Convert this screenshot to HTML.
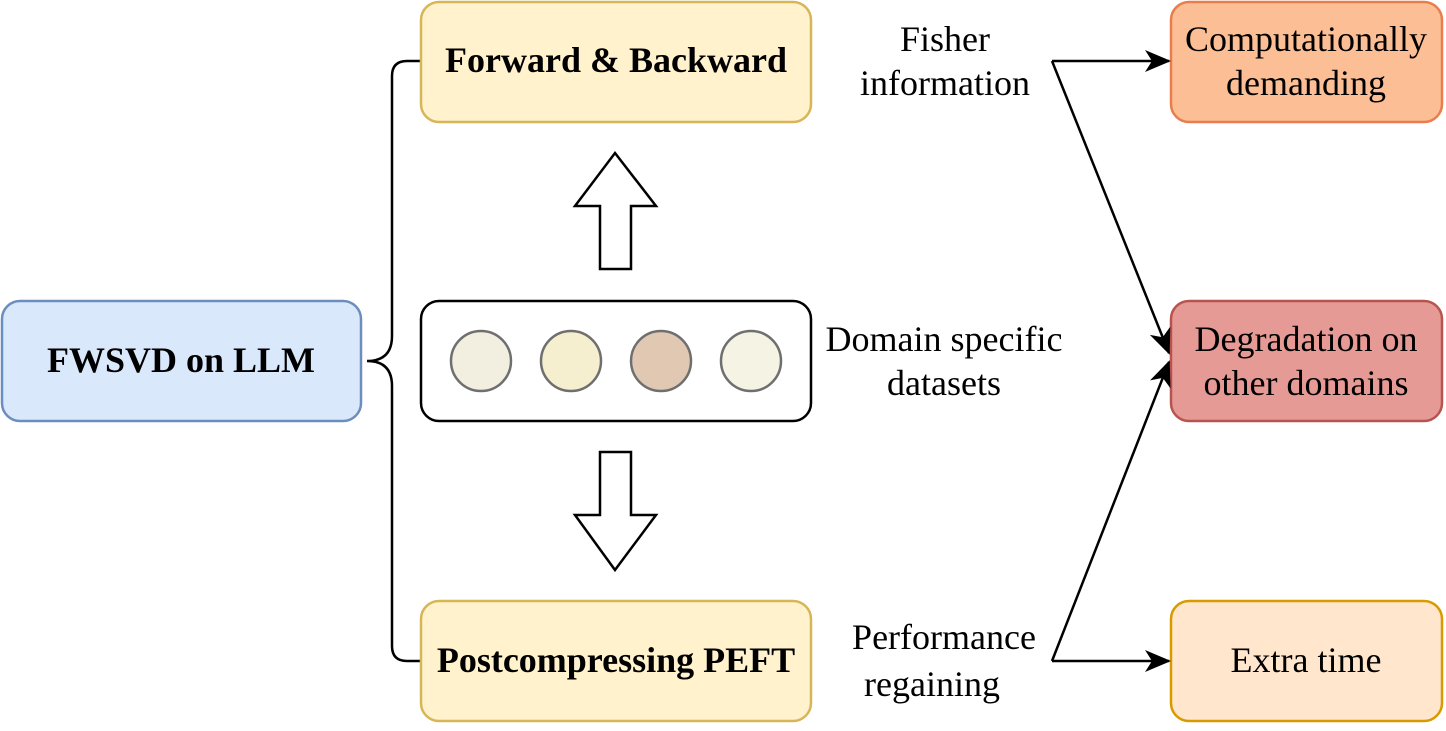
<!DOCTYPE html>
<html><head><style>body{margin:0;background:#fff} text{font-family:"Liberation Serif",serif;font-size:36px}</style></head><body>
<svg width="1446" height="726" viewBox="0 0 1446 726" xmlns="http://www.w3.org/2000/svg">
<defs>
<marker id="b" markerWidth="26" markerHeight="26" refX="24" refY="13" orient="auto" markerUnits="userSpaceOnUse" viewBox="0 0 26 26"><path d="M0,2 L26,13 L0,24 L7,13 Z" fill="#000"/></marker></defs>
<rect x="2" y="301" width="359" height="120" rx="18" fill="#dae8fc" stroke="#6c8ebf" stroke-width="2.5"/>
<text x="181" y="372" text-anchor="middle" font-weight="bold">FWSVD on LLM</text>
<path d="M367,361 Q392,361 392,336 L392,76 Q392,61 407,61 L421,61 M367,361 Q392,361 392,386 L392,646 Q392,661 407,661 L421,661" fill="none" stroke="#000" stroke-width="2.5"/>
<rect x="421" y="2" width="390" height="120" rx="18" fill="#fff2cc" stroke="#d6b656" stroke-width="2.5"/>
<text x="616" y="72" text-anchor="middle" font-weight="bold">Forward &amp; Backward</text>
<rect x="421" y="601" width="390" height="120" rx="18" fill="#fff2cc" stroke="#d6b656" stroke-width="2.5"/>
<text x="616" y="672" text-anchor="middle" font-weight="bold">Postcompressing PEFT</text>
<rect x="421" y="301" width="390" height="120" rx="18" fill="#fff" stroke="#000" stroke-width="2.5"/>
<g stroke="#6f6f6f" stroke-width="2.5"><circle cx="481" cy="361" r="30" fill="#f2efe0"/><circle cx="571" cy="361" r="30" fill="#f5efcf"/><circle cx="661" cy="361" r="30" fill="#e0c8b2"/><circle cx="751" cy="361" r="30" fill="#f4f3e4"/></g>
<path d="M615,153 L656,206 L631,206 L631,269 L600,269 L600,206 L575,206 Z" fill="#fff" stroke="#000" stroke-width="2.5"/>
<path d="M615,570 L656,515 L631,515 L631,452 L600,452 L600,515 L575,515 Z" fill="#fff" stroke="#000" stroke-width="2.5"/>
<g text-anchor="middle"><text x="945" y="51">Fisher</text><text x="945" y="95">information</text>
<text x="944" y="351">Domain specific</text><text x="944" y="395">datasets</text>
<text x="944" y="649">Performance</text><text x="932" y="696">regaining</text></g>
<rect x="1171" y="2" width="271" height="120" rx="18" fill="#fbbe95" stroke="#ea7d4c" stroke-width="2.5"/>
<text x="1306" y="51" text-anchor="middle">Computationally</text><text x="1306" y="95" text-anchor="middle">demanding</text>
<rect x="1171" y="301" width="271" height="120" rx="18" fill="#e59a95" stroke="#b85450" stroke-width="2.5"/>
<text x="1306" y="351" text-anchor="middle">Degradation on</text><text x="1306" y="395" text-anchor="middle">other domains</text>
<rect x="1171" y="601" width="271" height="120" rx="18" fill="#ffe6cc" stroke="#d79b00" stroke-width="2.5"/>
<text x="1306" y="672" text-anchor="middle">Extra time</text>
<g fill="none" stroke="#000" stroke-width="2.5">
<path d="M1052,61 L1169,61" marker-end="url(#b)"/>
<path d="M1052,61 L1169,353" marker-end="url(#b)"/>
<path d="M1052,661 L1169,661" marker-end="url(#b)"/>
<path d="M1052,661 L1169,362" marker-end="url(#b)"/>
</g>
</svg>
</body></html>
